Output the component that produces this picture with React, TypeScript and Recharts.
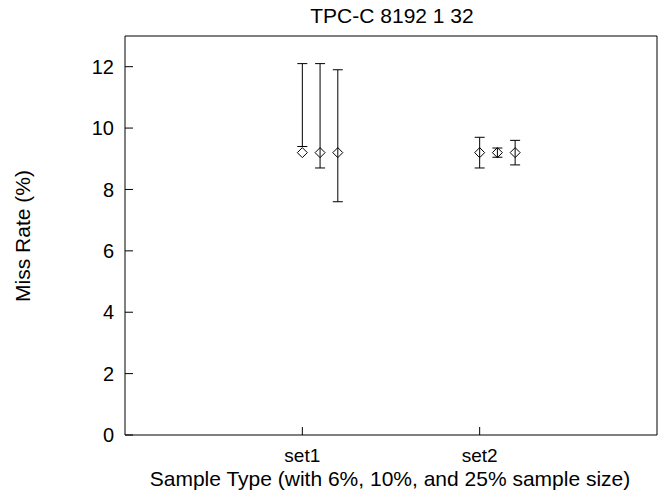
import { ComposedChart, Scatter, ErrorBar, XAxis, YAxis, Label } from 'recharts';

const categories = ['set1', 'set2'];
const sampleSizes = ['6%', '10%', '25%'];
const sampleOffsets = [0, 0.1, 0.2];

const mean6 = [9.2, 9.2];
const low6 = [9.4, 8.7];
const high6 = [12.1, 9.7];

const mean10 = [9.2, 9.2];
const low10 = [8.7, 9.05];
const high10 = [12.1, 9.35];

const mean25 = [9.2, 9.2];
const low25 = [7.6, 8.8];
const high25 = [11.9, 9.6];

const yTicks = [0, 2, 4, 6, 8, 10, 12];

const FONT = '"Liberation Sans", Arial, Helvetica, sans-serif';

function buildSeries(means: number[], lows: number[], highs: number[], offset: number) {
  return categories.map((c, i) => ({
    cat: c,
    x: i + 1 + offset,
    y: means[i],
    err: [means[i] - lows[i], highs[i] - means[i]],
  }));
}

const series = [
  buildSeries(mean6, low6, high6, sampleOffsets[0]),
  buildSeries(mean10, low10, high10, sampleOffsets[1]),
  buildSeries(mean25, low25, high25, sampleOffsets[2]),
];

const Diamond = (props: any) => {
  const { cx, cy } = props;
  if (cx == null || cy == null) return null;
  const r = 5;
  return (
    <path
      d={`M${cx},${cy - r} L${cx + r},${cy} L${cx},${cy + r} L${cx - r},${cy} Z`}
      fill="none"
      stroke="#000"
      strokeWidth={1}
    />
  );
};

const yTickStyle = { fill: '#000', fontSize: 20, fontFamily: FONT };
const xTickStyle = { fill: '#000', fontSize: 19, fontFamily: FONT };

export default function App() {
  return (
    <div style={{ position: 'absolute', left: 0, top: 0, background: '#fff' }}>
      <ComposedChart width={665} height={492} margin={{ top: 0, right: 0, bottom: 0, left: 0 }}>
        <XAxis
          xAxisId="bottom"
          dataKey="x"
          type="number"
          domain={[0, 3]}
          ticks={[1, 2]}
          tickFormatter={(v: number) => categories[v - 1]}
          orientation="bottom"
          height={57}
          tickSize={-8}
          tickMargin={22}
          axisLine={{ stroke: '#000', strokeWidth: 1 }}
          tickLine={{ stroke: '#000' }}
          tick={xTickStyle}
        >
          <Label
            content={() => (
              <text x={390} y={486} textAnchor="middle" fontSize={21} fontFamily={FONT} fill="#000">
                Sample Type (with 6%, 10%, and 25% sample size)
              </text>
            )}
          />
        </XAxis>
        <XAxis
          xAxisId="top"
          dataKey="x"
          type="number"
          domain={[0, 3]}
          ticks={[1, 2]}
          orientation="top"
          height={36}
          tickSize={-8}
          tick={false}
          axisLine={{ stroke: '#000', strokeWidth: 1 }}
          tickLine={{ stroke: '#000' }}
        >
          <Label
            content={() => (
              <text x={392} y={23} textAnchor="middle" fontSize={21} fontFamily={FONT} fill="#000">
                TPC-C 8192 1 32
              </text>
            )}
          />
        </XAxis>
        <YAxis
          yAxisId="left"
          type="number"
          domain={[0, 13]}
          ticks={yTicks}
          orientation="left"
          width={125}
          tickSize={-8}
          tickMargin={19}
          axisLine={{ stroke: '#000', strokeWidth: 1 }}
          tickLine={{ stroke: '#000' }}
          tick={yTickStyle}
        >
          <Label
            content={() => (
              <text
                x={30}
                y={236}
                transform="rotate(-90 30 236)"
                textAnchor="middle"
                fontSize={21}
                fontFamily={FONT}
                fill="#000"
              >
                Miss Rate (%)
              </text>
            )}
          />
        </YAxis>
        <YAxis
          yAxisId="right"
          type="number"
          domain={[0, 13]}
          ticks={yTicks}
          orientation="right"
          width={8}
          tickSize={-8}
          tick={false}
          axisLine={{ stroke: '#000', strokeWidth: 1 }}
          tickLine={{ stroke: '#000' }}
        />
        {series.map((data, i) => (
          <Scatter
            key={sampleSizes[i]}
            name={sampleSizes[i]}
            data={data}
            dataKey="y"
            xAxisId="bottom"
            yAxisId="left"
            shape={Diamond}
            isAnimationActive={false}
          >
            <ErrorBar dataKey="err" direction="y" width={5} stroke="#000" strokeWidth={1} />
          </Scatter>
        ))}
      </ComposedChart>
    </div>
  );
}
